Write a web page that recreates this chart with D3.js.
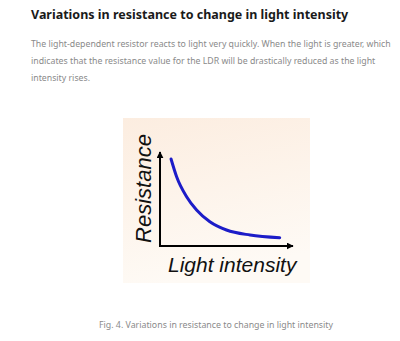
<!DOCTYPE html>
<html>
<head>
<meta charset="utf-8">
<script src="https://cdn.jsdelivr.net/npm/d3@7"></script>
<style>
  html, body { margin: 0; padding: 0; background: #ffffff; }
  svg { display: block; }
</style>
</head>
<body>
<div id="chart"></div>
<script>
// Light intensity (arbitrary units) and the LDR's resistance at each level
const lightIntensity = [0.83, 1.25, 2.0, 2.75, 3.75, 5.0, 6.77, 9.0];
const resistance = [9.26, 7.37, 5.24, 3.83, 2.58, 1.70, 1.17, 0.88];

const titleText = "Variations in resistance to change in light intensity";
const bodyLines = [
  "The light-dependent resistor reacts to light very quickly. When the light is greater, which",
  "indicates that the resistance value for the LDR will be drastically reduced as the light",
  "intensity rises."
];
const yAxisLabel = "Resistance";
const xAxisLabel = "Light intensity";
const captionText = "Fig. 4. Variations in resistance to change in light intensity";

const W = 400, H = 341;
const svg = d3.select("#chart").append("svg").attr("width", W).attr("height", H);

const defs = svg.append("defs");
const grad = defs.append("linearGradient").attr("id", "panelGrad")
  .attr("x1", "0").attr("y1", "0").attr("x2", "0.25").attr("y2", "1");
grad.append("stop").attr("offset", "0%").attr("stop-color", "#fcede0");
grad.append("stop").attr("offset", "100%").attr("stop-color", "#fefaf5");

defs.append("marker").attr("id", "arrow")
  .attr("viewBox", "0 0 10 10").attr("refX", 9).attr("refY", 5)
  .attr("markerWidth", 7).attr("markerHeight", 7).attr("markerUnits", "userSpaceOnUse")
  .attr("orient", "auto")
  .append("path").attr("d", "M0,0 L10,5 L0,10 Z").attr("fill", "#000");

// Heading and paragraph
svg.append("text").attr("x", 31).attr("y", 19)
  .attr("font-family", "'Noto Sans', sans-serif").attr("font-weight", 700)
  .attr("font-size", 12.5).attr("fill", "#1a1a1a").text(titleText);

svg.append("g").selectAll("text").data(bodyLines).join("text")
  .attr("x", 31).attr("y", (d, i) => 47 + i * 17)
  .attr("font-family", "'Noto Sans', sans-serif").attr("font-size", 8.75)
  .attr("fill", "#8a8a8a").text(d => d);

// Figure panel
svg.append("rect").attr("x", 123).attr("y", 118).attr("width", 187).attr("height", 165)
  .attr("fill", "url(#panelGrad)");

const x = d3.scaleLinear().domain([0, 10]).range([160, 293]);
const y = d3.scaleLinear().domain([0, 10]).range([246, 152]);

// Axes drawn as arrows
svg.append("line").attr("x1", x(0)).attr("y1", y(0)).attr("x2", x(10)).attr("y2", y(0))
  .attr("stroke", "#000").attr("stroke-width", 2).attr("marker-end", "url(#arrow)");
svg.append("line").attr("x1", x(0)).attr("y1", y(0) + 1).attr("x2", x(0)).attr("y2", y(10))
  .attr("stroke", "#000").attr("stroke-width", 2).attr("marker-end", "url(#arrow)");

const pts = lightIntensity.map((v, i) => [v, resistance[i]]);
const line = d3.line().x(d => x(d[0])).y(d => y(d[1])).curve(d3.curveMonotoneX);
svg.append("path").attr("d", line(pts)).attr("fill", "none")
  .attr("stroke", "#1c1cc8").attr("stroke-width", 3).attr("stroke-linecap", "round");

// Axis labels
svg.append("text").attr("transform", `translate(151,${(135 + 242) / 2}) rotate(-90)`)
  .attr("text-anchor", "middle").attr("font-family", "'Liberation Sans', Arial, sans-serif")
  .attr("font-style", "italic").attr("font-size", 22).attr("fill", "#111").text(yAxisLabel);

svg.append("text").attr("x", 168).attr("y", 272)
  .attr("font-family", "'Liberation Sans', Arial, sans-serif")
  .attr("font-style", "italic").attr("font-size", 21).attr("fill", "#111").text(xAxisLabel);

// Caption
svg.append("text").attr("x", 216).attr("y", 328).attr("text-anchor", "middle")
  .attr("font-family", "'Noto Sans', sans-serif").attr("font-size", 8.8)
  .attr("fill", "#8a8a8a").text(captionText);
</script>
</body>
</html>
